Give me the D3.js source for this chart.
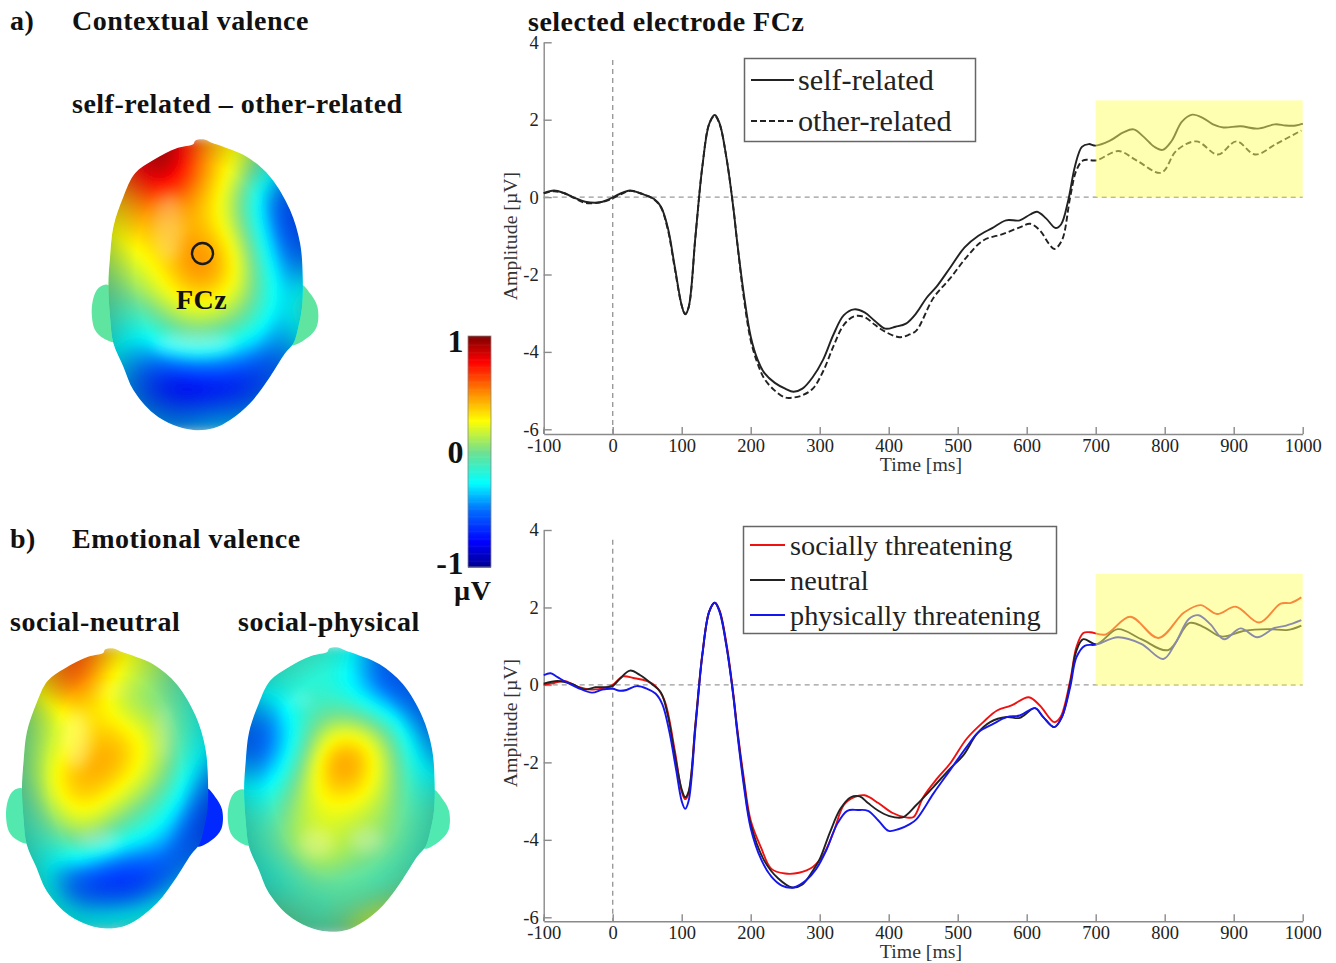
<!DOCTYPE html>
<html>
<head>
<meta charset="utf-8">
<title>FCz ERP</title>
<script src="https://cdn.jsdelivr.net/npm/d3@7"></script>
<style>
body { margin: 0; background: #fff; }
svg { display: block; }
text { font-family: "Liberation Serif", "Times New Roman", serif; }
.title { font-weight: bold; font-size: 28px; letter-spacing: .5px; fill: #111; }
.tick text { font-size: 18.5px; fill: #222; }
.axis-label { font-size: 19.8px; fill: #333; }
.legend-text { fill: #222; }
</style>
</head>
<body>
<svg id="chart" width="1336" height="963"></svg>
<script>
// series values as [time ms, amplitude uV]
var selfRelated = [[-100,.1],[-85,.17],[-70,.1],[-55,-.02],[-40,-.12],[-20,-.14],[-5,-.05],[10,.08],[25,.17],[40,.1],[60,-.05],[70,-.25],[80,-.8],[90,-1.8],[100,-2.8],[105,-3.03],[110,-2.85],[120,-1],[130,.8],[140,1.9],[148,2.12],[155,1.9],[165,1],[175,-.3],[180,-1.1],[190,-2.5],[200,-3.6],[210,-4.2],[220,-4.55],[235,-4.8],[250,-4.95],[262,-5.03],[275,-4.95],[290,-4.65],[305,-4.2],[320,-3.55],[335,-3.05],[350,-2.9],[365,-2.98],[380,-3.2],[395,-3.4],[410,-3.35],[425,-3.27],[440,-3],[455,-2.6],[470,-2.3],[490,-1.8],[510,-1.3],[530,-1],[550,-.8],[570,-.6],[590,-.6],[605,-.45],[615,-.38],[628,-.55],[642,-.8],[650,-.7],[660,-.1],[670,.8],[680,1.3],[690,1.37],[700,1.33],[720,1.45],[740,1.67],[755,1.75],[770,1.55],[785,1.3],[797,1.22],[810,1.45],[825,1.95],[840,2.13],[855,2.05],[870,1.88],[885,1.8],[910,1.83],[935,1.77],[960,1.88],[975,1.85],[990,1.85],[1000,1.9]];
var otherRelated = [[-100,.1],[-85,.15],[-70,.1],[-55,-.03],[-40,-.15],[-20,-.14],[-5,-.07],[10,.06],[25,.16],[40,.1],[60,-.06],[70,-.27],[80,-.85],[90,-1.85],[100,-2.8],[105,-3.02],[110,-2.85],[120,-1],[130,.8],[140,1.9],[148,2.1],[155,1.88],[165,1],[175,-.3],[180,-1.1],[190,-2.6],[200,-3.7],[210,-4.3],[220,-4.7],[235,-5],[250,-5.18],[262,-5.18],[275,-5.12],[290,-4.95],[305,-4.5],[320,-3.85],[335,-3.3],[350,-3.08],[365,-3.1],[380,-3.3],[395,-3.48],[416,-3.62],[430,-3.55],[440,-3.45],[465,-2.6],[489,-2.1],[513,-1.55],[537,-1.12],[566,-.95],[590,-.78],[605,-.69],[619,-.86],[632,-1.2],[640,-1.34],[651,-1.12],[663,0],[672,.69],[682,.95],[701,.95],[733,1.19],[759,.95],[795,.63],[817,1.2],[846,1.44],[877,1.1],[904,1.44],[931,1.1],[962,1.38],[998,1.72]];
var sociallyThreatening = [[-100,0],[-85,.05],[-70,.1],[-50,-.05],[-30,-.12],[-10,-.07],[0,0],[15,.22],[30,.18],[50,.1],[62,-.03],[75,-.4],[90,-1.7],[100,-2.75],[105,-2.95],[110,-2.8],[120,-1],[130,.8],[140,1.9],[148,2.12],[155,1.92],[165,1.05],[175,-.25],[180,-1.05],[190,-2.4],[200,-3.5],[215,-4.2],[230,-4.75],[250,-4.87],[270,-4.85],[290,-4.7],[305,-4.4],[320,-3.8],[335,-3.1],[350,-2.9],[365,-2.85],[385,-3.05],[405,-3.3],[425,-3.42],[436,-3.41],[450,-2.9],[470,-2.42],[489,-2.03],[513,-1.39],[537,-.96],[557,-.66],[578,-.53],[603,-.32],[619,-.53],[640,-.96],[649,-.83],[663,.11],[672,.97],[682,1.34],[692,1.36],[714,1.3],[750,1.76],[791,1.21],[828,1.87],[852,2.06],[876,1.83],[903,2.02],[937,1.61],[968,2.1],[983,2.12],[998,2.26]];
var neutralSeries = [[-100,.03],[-80,.1],[-60,.03],[-40,-.12],[-25,-.06],[-10,-.06],[0,-.03],[10,.15],[25,.37],[40,.25],[55,.05],[70,-.2],[80,-.8],[90,-1.8],[100,-2.7],[105,-2.9],[110,-2.75],[120,-1],[130,.8],[140,1.9],[148,2.12],[155,1.9],[165,1],[175,-.3],[180,-1.1],[190,-2.5],[200,-3.6],[220,-4.55],[240,-5],[260,-5.23],[275,-5.15],[290,-4.8],[300,-4.5],[315,-3.8],[330,-3.2],[345,-2.9],[358,-2.88],[370,-3.05],[385,-3.25],[400,-3.38],[420,-3.42],[440,-3.1],[465,-2.63],[489,-2.16],[508,-1.82],[528,-1.26],[547,-.96],[571,-.83],[590,-.85],[612,-.6],[624,-.83],[640,-1.09],[651,-.83],[663,.03],[672,.88],[682,1.18],[701,1.05],[732,1.44],[766,1.18],[805,.9],[836,1.6],[858,1.48],[882,1.25],[916,1.4],[950,1.44],[979,1.42],[998,1.53]];
var physicallyThreatening = [[-100,.25],[-90,.3],[-80,.2],[-65,.05],[-50,-.08],[-30,-.2],[-15,-.12],[0,-.1],[10,-.15],[20,-.13],[35,-.03],[50,-.1],[62,-.22],[72,-.5],[82,-1.2],[92,-2.2],[100,-3],[105,-3.2],[110,-3],[120,-1.1],[130,.78],[140,1.9],[148,2.12],[155,1.88],[165,.98],[175,-.32],[180,-1.15],[190,-2.6],[200,-3.7],[215,-4.5],[230,-4.95],[245,-5.18],[262,-5.23],[280,-5.05],[295,-4.75],[310,-4.25],[325,-3.6],[340,-3.25],[355,-3.23],[370,-3.25],[385,-3.5],[400,-3.77],[415,-3.72],[430,-3.6],[440,-3.47],[465,-2.8],[489,-2.2],[513,-1.6],[530,-1.22],[552,-1],[571,-.83],[590,-.79],[612,-.6],[624,-.83],[640,-1.09],[651,-.83],[663,-.06],[672,.71],[684,1.01],[701,1.04],[732,1.23],[766,1.06],[798,.67],[815,1.06],[835,1.7],[849,1.8],[866,1.57],[886,1.18],[910,1.46],[934,1.23],[959,1.47],[976,1.53],[998,1.67]];

var xTickValues = [-100, 0, 100, 200, 300, 400, 500, 600, 700, 800, 900, 1000];
var yTickValues = [-6, -4, -2, 0, 2, 4];

var topLegendLabels = ["self-related", "other-related"];
var bottomLegendLabels = ["socially threatening", "neutral", "physically threatening"];

// scalp potentials in uV, 10 columns x 12 rows over the head's bounding box
var headContextual = [
	[.5,.7,.9,.95,.65,.4,.3,.1,-.2,-.2],
	[.5,.7,.95,1,.65,.35,.2,-.2,-.4,-.4],
	[.3,.45,.6,.5,.5,.3,.05,-.45,-.65,-.6],
	[.25,.38,.5,.4,.45,.3,.1,-.3,-.65,-.6],
	[.2,.25,.32,.4,.58,.48,.25,-.2,-.6,-.5],
	[.05,.1,.25,.38,.6,.55,.28,-.05,-.5,-.4],
	[0,0,.12,.28,.4,.32,.2,-.08,-.4,-.03],
	[-.05,-.2,-.15,.05,.12,.12,.02,-.15,-.5,-.03],
	[-.15,-.3,-.35,-.15,-.05,-.15,-.3,-.4,-.5,-.2],
	[-.3,-.4,-.6,-.65,-.6,-.55,-.6,-.65,-.6,-.3],
	[-.3,-.4,-.75,-.9,-.95,-.9,-.85,-.65,-.4,-.3],
	[-.2,-.3,-.3,-.4,-.35,-.3,-.3,-.3,-.2,-.2]
];
var headSocialNeutral = [
	[.2,.3,.6,.7,.45,.3,.2,.1,0,-.1],
	[.2,.38,.7,.65,.3,.15,.05,0,-.1,-.15],
	[.05,.1,.28,.35,.28,.12,.05,.03,-.15,-.2],
	[0,.1,.2,.3,.45,.3,.25,.08,-.15,-.25],
	[0,.08,.28,.32,.55,.45,.28,.08,-.2,-.3],
	[0,.1,.4,.52,.5,.32,.2,.03,-.3,-.5],
	[-.1,.03,.3,.42,.27,.2,.03,-.12,-.45,-.6],
	[-.1,-.05,.08,.25,.12,-.02,-.18,-.28,-.6,-.7],
	[-.1,-.2,-.08,.03,-.1,-.3,-.3,-.45,-.7,-.5],
	[-.1,-.2,-.45,-.55,-.65,-.7,-.7,-.65,-.4,-.3],
	[0,-.1,-.5,-.7,-.75,-.75,-.6,-.35,-.2,-.1],
	[0,0,-.1,-.2,-.15,-.15,-.1,-.05,0,0]
];
var headSocialPhysical = [
	[-.1,-.1,-.1,-.15,-.1,-.2,-.45,-.55,-.4,-.3],
	[-.15,-.15,-.15,-.15,-.2,-.3,-.55,-.65,-.5,-.4],
	[-.35,-.45,-.25,-.1,-.1,-.1,-.25,-.45,-.6,-.5],
	[-.5,-.6,-.45,-.1,.2,.25,.18,-.05,-.45,-.5],
	[-.5,-.6,-.35,0,.5,.6,.35,.05,-.35,-.4],
	[-.25,-.45,-.2,.15,.5,.55,.3,.1,-.25,-.25],
	[-.1,-.25,0,.2,.28,.3,.2,.05,-.15,-.05],
	[-.08,-.15,.05,.15,.22,.15,.1,.05,-.1,-.05],
	[-.1,-.08,.05,.22,.25,.08,.12,0,-.1,-.1],
	[-.2,-.2,-.2,0,.05,0,-.05,-.15,-.1,-.1],
	[-.1,-.1,-.15,-.08,-.1,-.12,-.15,-.05,.1,.1],
	[.1,.1,.05,-.05,-.05,.1,.3,.4,.3,.2]
];

// ear colours as uV, left then right
var earsContextual = [-.04, -.04];
var earsSocialNeutral = [-.07, -.68];
var earsSocialPhysical = [-.08, -.08];

// pale glare patches on the scalp, [x, y, rx, ry, opacity] in outline units
var glareContextual = [[265,290,45,105,.25],[345,640,120,30,.3]];
var glareSocialNeutral = [[256,313,45,90,.3],[326,625,70,30,.25],[527,293,25,90,.2],[367,158,60,15,.2]];
var glareSocialPhysical = [[307,629,50,45,.25],[460,619,50,40,.25],[256,190,40,20,.2]];

// head outline, in outline units
var bodyX = [370,395,430,500,570,630,660,668,666,655,640,615,570,510,450,400,340,280,220,160,130,100,90,85,90,100,130,165,220,290,340,345];
var bodyY = [28,38,50,80,140,240,340,440,530,590,640,670,740,820,870,895,900,885,850,780,710,640,560,465,380,290,200,130,90,55,42,32];
var earLeftX = [85,60,45,35,45,70,105,100];
var earLeftY = [465,470,490,540,600,625,635,540];
var earRightX = [665,690,712,710,680,635,650];
var earRightY = [465,490,530,590,625,645,540];

var jetStops = [-1, -.78, -.5, -.27, 0, .27, .5, .78, 1];
var jetColors = ["#00008f", "#0000ff", "#0070ff", "#00ffff", "#70e090", "#ffff00", "#ff9000", "#ff0000", "#800000"];
var jet = d3.scaleLinear().domain(jetStops).range(jetColors).clamp(true);

var svg = d3.select("#chart");
var defs = svg.append("defs");

var shade = defs.append("radialGradient").attr("id", "headShade").attr("cx", "50%").attr("cy", "45%").attr("r", "58%");
shade.append("stop").attr("offset", "62%").attr("stop-color", "#003040").attr("stop-opacity", 0);
shade.append("stop").attr("offset", "100%").attr("stop-color", "#003040").attr("stop-opacity", .3);

defs.append("filter").attr("id", "soften").attr("x", "-5%").attr("y", "-5%").attr("width", "110%").attr("height", "110%")
	.append("feGaussianBlur").attr("stdDeviation", 1.6);
defs.append("filter").attr("id", "glare").attr("x", "-60%").attr("y", "-60%").attr("width", "220%").attr("height", "220%")
	.append("feGaussianBlur").attr("stdDeviation", 7);

function zipPoints(xs, ys) {
	return xs.map(function(d, i) { return [d, ys[i]]; });
}

function drawHead(id, values, ears, glare, box) {
	var rows = values.length, cols = values[0].length, factor = 8;
	var width = cols * factor, height = rows * factor;
	var fine = [];
	for (var j = 0; j < height; j++) {
		for (var i = 0; i < width; i++) {
			fine.push(values[Math.floor(j / factor)][Math.floor(i / factor)]);
		}
	}
	d3.blur2({data: fine, width: width, height: height}, 5);

	var x = d3.scaleLinear().domain([35, 715]).range([box.x, box.x + box.w]);
	var y = d3.scaleLinear().domain([28, 900]).range([box.y, box.y + box.h]);
	var outline = d3.line().x(function(d) { return x(d[0]); }).y(function(d) { return y(d[1]); }).curve(d3.curveCatmullRomClosed);

	var earGroup = svg.append("g");
	earGroup.selectAll("path")
		.data([zipPoints(earLeftX, earLeftY), zipPoints(earRightX, earRightY)])
		.join("path")
		.attr("d", outline)
		.attr("fill", function(d, i) { return jet(ears[i]); });

	var bodyPath = outline(zipPoints(bodyX, bodyY));
	defs.append("clipPath").attr("id", id + "-clip").append("path").attr("d", bodyPath);

	var contours = d3.contours().size([width, height]).thresholds(d3.range(-1.02, 1.01, .025))(fine);
	var head = svg.append("g").attr("clip-path", "url(#" + id + "-clip)");
	head.append("g")
		.attr("filter", "url(#soften)")
		.attr("transform", "translate(" + box.x + "," + box.y + ") scale(" + box.w / width + "," + box.h / height + ")")
		.selectAll("path")
		.data(contours)
		.join("path")
		.attr("d", d3.geoPath())
		.attr("fill", function(d) { return jet(d.value); });
	head.selectAll("ellipse")
		.data(glare)
		.join("ellipse")
		.attr("cx", function(d) { return x(d[0]); })
		.attr("cy", function(d) { return y(d[1]); })
		.attr("rx", function(d) { return x(d[2]) - x(0); })
		.attr("ry", function(d) { return y(d[3]) - y(0); })
		.attr("fill", "#fff")
		.attr("opacity", function(d) { return d[4]; })
		.attr("filter", "url(#glare)");
	head.append("path").attr("d", bodyPath).attr("fill", "url(#headShade)");
}

function drawPlot(cfg) {
	var x = d3.scaleLinear().domain([-100, 1000]).range([543.7, 1302.7]);
	var y = d3.scaleLinear().domain([-6, 4]).range([cfg.yBottom, cfg.yTop]);
	var g = svg.append("g");

	g.append("g")
		.attr("transform", "translate(0," + cfg.axisY + ")")
		.call(d3.axisBottom(x).tickValues(xTickValues).tickFormat(String).tickSizeInner(-7).tickSizeOuter(0).tickPadding(5));
	g.append("g")
		.attr("transform", "translate(" + x(-100) + ",0)")
		.call(d3.axisLeft(y).tickValues(yTickValues).tickFormat(String).tickSizeInner(-8).tickSizeOuter(0).tickPadding(5));
	g.selectAll(".domain, .tick line").attr("stroke", "#8a8a8a").attr("stroke-width", 1.4);
	// left axis runs down to the bottom axis
	g.append("line").attr("x1", x(-100)).attr("x2", x(-100)).attr("y1", y(-6)).attr("y2", cfg.axisY).attr("stroke", "#8a8a8a").attr("stroke-width", 1.4);

	g.append("line").attr("x1", x(-100)).attr("x2", x(1000)).attr("y1", y(0)).attr("y2", y(0))
		.attr("stroke", "#9a9a9a").attr("stroke-width", 1.4).attr("stroke-dasharray", "5,4");
	g.append("line").attr("x1", x(0)).attr("x2", x(0)).attr("y1", y(cfg.stemTop)).attr("y2", cfg.axisY)
		.attr("stroke", "#9a9a9a").attr("stroke-width", 1.4).attr("stroke-dasharray", "5,4");

	var line = d3.line().x(function(d) { return x(d[0]); }).y(function(d) { return y(d[1]); }).curve(d3.curveCatmullRom.alpha(.5));
	g.selectAll(".trace")
		.data(cfg.series)
		.join("path")
		.attr("class", "trace")
		.attr("fill", "none")
		.attr("stroke", function(d) { return d.color; })
		.attr("stroke-width", 1.9)
		.attr("stroke-dasharray", function(d) { return d.dash; })
		.attr("d", function(d) { return line(d.values); });

	// the shaded window sits over the traces and washes them out
	g.append("rect")
		.attr("x", x(700))
		.attr("y", y(cfg.windowTop))
		.attr("width", x(1000) - x(700))
		.attr("height", y(0) - y(cfg.windowTop))
		.attr("fill", "#ffff66")
		.attr("fill-opacity", .5);

	g.append("text").attr("class", "axis-label").attr("text-anchor", "middle")
		.attr("transform", "translate(517," + cfg.labelY + ") rotate(-90)").text("Amplitude [\u00b5V]");
	g.append("text").attr("class", "axis-label").attr("text-anchor", "middle")
		.attr("x", 921).attr("y", cfg.axisY + 37).text("Time [ms]");

	var l = cfg.legend;
	g.append("rect").attr("x", l.x).attr("y", l.y).attr("width", l.w).attr("height", l.h)
		.attr("fill", "#fff").attr("stroke", "#666").attr("stroke-width", 1.5);
	var item = g.selectAll(".legend-item").data(cfg.series).join("g").attr("class", "legend-item")
		.attr("transform", function(d, i) { return "translate(0," + (l.first + i * l.step) + ")"; });
	item.append("line").attr("x1", l.lineX).attr("x2", l.lineX + l.lineW)
		.attr("stroke", function(d) { return d.color; }).attr("stroke-width", 1.9)
		.attr("stroke-dasharray", function(d) { return d.dash; });
	item.append("text").attr("class", "legend-text").attr("x", l.textX).attr("y", 10)
		.attr("font-size", l.size).text(function(d) { return d.label; });
}

drawHead("headA", headContextual, earsContextual, glareContextual, {x: 91.7, y: 139.3, w: 226.7, h: 290.7});
drawHead("headB", headSocialNeutral, earsSocialNeutral, glareSocialNeutral, {x: 6, y: 648.3, w: 217, h: 280});
drawHead("headC", headSocialPhysical, earsSocialPhysical, glareSocialPhysical, {x: 227.7, y: 647.3, w: 222.3, h: 284.3});

// electrode marker
svg.append("circle").attr("cx", 202.5).attr("cy", 253.5).attr("r", 10.5)
	.attr("fill", "none").attr("stroke", "#1a1a1a").attr("stroke-width", 2.4);

drawPlot({
	yTop: 42.3, yBottom: 429.3, axisY: 434, stemTop: 3.54, windowTop: 2.5, labelY: 236,
	series: [
		{label: topLegendLabels[0], values: selfRelated, color: "#222", dash: null},
		{label: topLegendLabels[1], values: otherRelated, color: "#222", dash: "6,3"}
	],
	legend: {x: 744.5, y: 58.5, w: 231, h: 83, lineX: 751, lineW: 43, textX: 798, first: 80, step: 41, size: 30.2}
});

drawPlot({
	yTop: 530, yBottom: 917.3, axisY: 921.3, stemTop: 3.75, windowTop: 2.87, labelY: 723,
	series: [
		{label: bottomLegendLabels[0], values: sociallyThreatening, color: "#f01010", dash: null},
		{label: bottomLegendLabels[1], values: neutralSeries, color: "#222", dash: null},
		{label: bottomLegendLabels[2], values: physicallyThreatening, color: "#1515ee", dash: null}
	],
	legend: {x: 743.5, y: 526.5, w: 313, h: 107, lineX: 750, lineW: 35, textX: 790, first: 545, step: 35, size: 28.3}
});

// colour bar
var barScale = d3.scaleLinear().domain([1, -1]).range([336, 567]);
svg.append("g").selectAll("rect")
	.data(d3.range(1, -1, -.01))
	.join("rect")
	.attr("x", 468)
	.attr("width", 23)
	.attr("y", function(d) { return barScale(d); })
	.attr("height", barScale(-.01) - barScale(0) + .6)
	.attr("fill", function(d) { return jet(d); });
svg.append("rect").attr("x", 468).attr("y", 336).attr("width", 23).attr("height", 231)
	.attr("fill", "none").attr("stroke", "#888").attr("stroke-width", .8);

var titleLabels = [
	{text: "a)", x: 10, y: 30},
	{text: "Contextual valence", x: 72, y: 30},
	{text: "self-related \u2013 other-related", x: 72, y: 113},
	{text: "b)", x: 10, y: 548},
	{text: "Emotional valence", x: 72, y: 548},
	{text: "social-neutral", x: 10, y: 631},
	{text: "social-physical", x: 238, y: 631},
	{text: "selected electrode FCz", x: 528, y: 31},
	{text: "FCz", x: 176, y: 309},
	{text: "\u00b5V", x: 454, y: 600}
];
svg.append("g").selectAll("text")
	.data(titleLabels)
	.join("text")
	.attr("class", "title")
	.attr("x", function(d) { return d.x; })
	.attr("y", function(d) { return d.y; })
	.text(function(d) { return d.text; });

var barLabels = [
	{text: "1", y: 352},
	{text: "0", y: 463},
	{text: "-1", y: 574}
];
svg.append("g").selectAll("text")
	.data(barLabels)
	.join("text")
	.attr("class", "title")
	.attr("text-anchor", "end")
	.style("font-size", "32px")
	.attr("x", 464)
	.attr("y", function(d) { return d.y; })
	.text(function(d) { return d.text; });
</script>
</body>
</html>
